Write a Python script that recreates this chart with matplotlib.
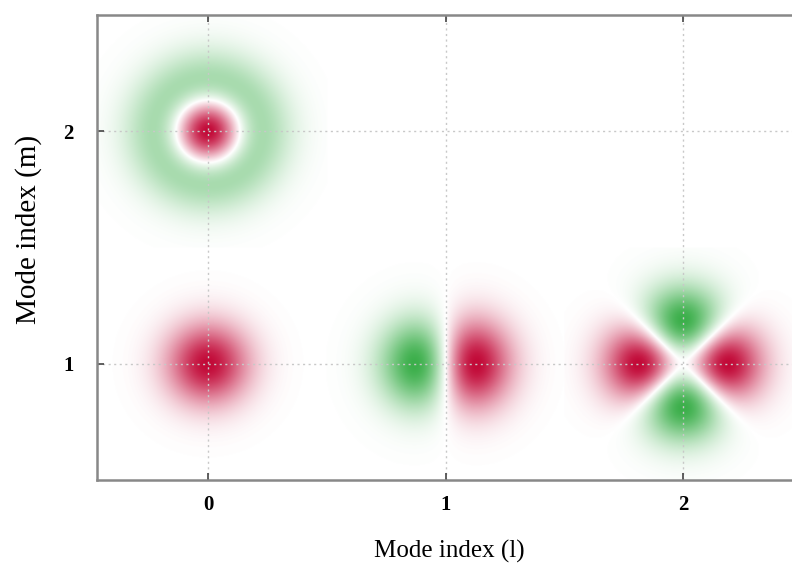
"""Transverse mode field patterns laid out on an (l, m) grid."""
import numpy as np
import matplotlib
matplotlib.use('Agg')
import matplotlib.pyplot as plt
from matplotlib.colors import LinearSegmentedColormap

plt.rcParams.update({
    'font.family': ['Liberation Serif', 'DejaVu Serif'],
    'figure.dpi': 100,
})

# modes shown: azimuthal index l, mode index m (radial order m - 1), beam waist in grid units
MODE_L = [0, 1, 2, 0]
MODE_M = [1, 1, 1, 2]
MODE_WAIST = [0.17, 0.185, 0.19, 0.19]

L_TICKS = [0, 1, 2]
M_TICKS = [1, 2]

RED = '#C20A38'
GREEN = '#3CAF4B'


def laguerre(p, l, u):
    """Generalised Laguerre polynomial L_p^l(u) by recurrence."""
    if p == 0:
        return np.ones_like(u)
    prev, cur = np.ones_like(u), 1.0 + l - u
    for k in range(1, p):
        prev, cur = cur, ((2 * k + 1 + l - u) * cur - (k + l) * prev) / (k + 1)
    return cur


def mode_field(l, m, w, x, y):
    r2 = x ** 2 + y ** 2
    phi = np.arctan2(y, x)
    u = 2.0 * r2 / w ** 2
    e = u ** (l / 2.0) * laguerre(m - 1, l, u) * np.exp(-u / 2.0) * np.cos(l * phi)
    return e / np.abs(e).max()


step = 0.002
xs = np.arange(-0.5, 2.5, step) + step / 2
ys = np.arange(0.5, 2.5, step) + step / 2
X, Y = np.meshgrid(xs, ys)
field = np.zeros_like(X)
for l, m, w in zip(MODE_L, MODE_M, MODE_WAIST):
    tile = (np.abs(X - l) <= 0.5) & (np.abs(Y - m) <= 0.5)
    field[tile] = mode_field(l, m, w, X[tile] - l, Y[tile] - m)

# odd number of levels so that zero lands exactly on white
cmap = LinearSegmentedColormap.from_list('gwr', [GREEN, 'white', RED], N=257)

fig = plt.figure(figsize=(7.92, 5.70))
ax = fig.add_axes([97 / 792, 90 / 570, 705 / 792, 465 / 570])
ax.imshow(field, cmap=cmap, vmin=-1, vmax=1, origin='lower',
          extent=[-0.5, 2.5, 0.5, 2.5], aspect='auto', interpolation='bilinear')
ax.set_xlim(-0.467, 2.5)
ax.set_ylim(0.5, 2.5)

ax.set_xticks(L_TICKS)
ax.set_yticks(M_TICKS)
ax.set_xticklabels([str(v) for v in L_TICKS], fontsize=15, fontweight='bold')
ax.set_yticklabels([str(v) for v in M_TICKS], fontsize=15, fontweight='bold')
ax.tick_params(direction='in', length=5, width=1.2, color='#444444',
               top=True, right=True)
ax.tick_params(axis='x', pad=11)
ax.tick_params(axis='y', pad=17)
ax.grid(True, linestyle=(0, (1.5, 2.5)), color='#c8c8c8', linewidth=1.0)
for spine in ax.spines.values():
    spine.set_color('#888888')
    spine.set_linewidth(1.8)

ax.set_xlabel('Mode index (l)', fontsize=18, labelpad=18)
ax.set_ylabel('Mode index (m)', fontsize=21)
ax.yaxis.set_label_coords(-0.078, 0.538)

fig.savefig('out.png', dpi=100)
